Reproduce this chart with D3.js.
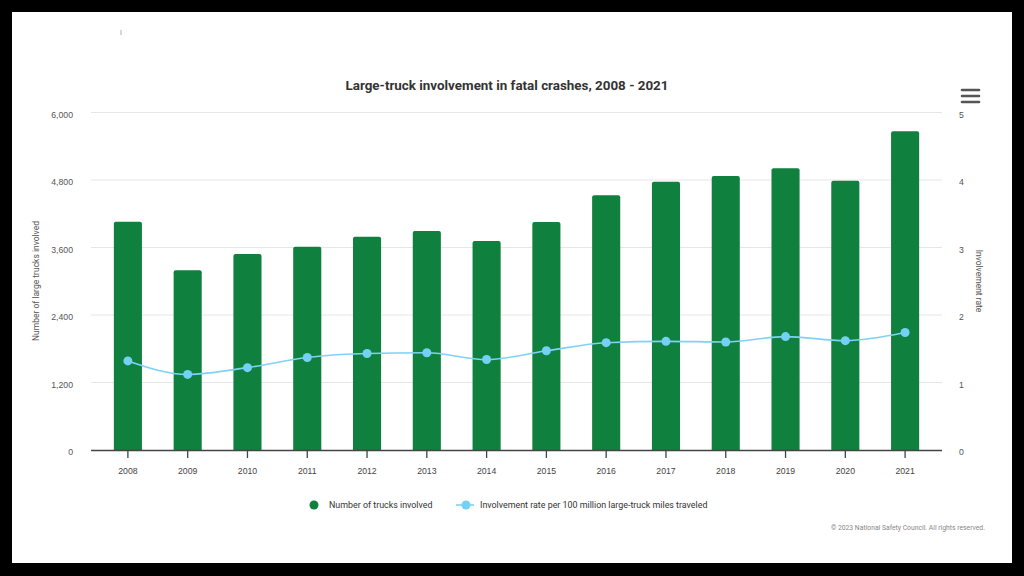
<!DOCTYPE html>
<html>
<head>
<meta charset="utf-8">
<script src="https://cdn.jsdelivr.net/npm/d3@7"></script>
<style>
  body { margin: 0; background: #000; }
  svg { display: block; font-family: Roboto, "Noto Sans", sans-serif; }
</style>
</head>
<body>
<div id="chart"></div>
<script>
// data
var years = ['2008', '2009', '2010', '2011', '2012', '2013', '2014',
             '2015', '2016', '2017', '2018', '2019', '2020', '2021'];
var trucks = [4060, 3195, 3483, 3614, 3792, 3893, 3716,
              4053, 4527, 4770, 4871, 5007, 4788, 5666];
var rates = [1.32, 1.12, 1.22, 1.37, 1.43, 1.44, 1.34,
             1.47, 1.59, 1.61, 1.60, 1.68, 1.62, 1.74];
var leftTicks = [0, 1200, 2400, 3600, 4800, 6000];
var rightTicks = [0, 1, 2, 3, 4, 5];

var svgWidth = 1024;
var svgHeight = 576;

var plot = { left: 91, right: 942, top: 112.5, bottom: 450 };

var svg = d3.select('#chart')
    .append('svg')
    .attr('width', svgWidth)
    .attr('height', svgHeight);

// white card inside black frame
svg.append('rect')
    .attr('x', 12).attr('y', 12)
    .attr('width', 1000).attr('height', 551)
    .attr('fill', '#fff');

// small mark top-left
svg.append('line')
    .attr('x1', 121).attr('x2', 121)
    .attr('y1', 30).attr('y2', 35)
    .attr('stroke', '#999').attr('stroke-width', 0.8);

// scales
var x = d3.scaleBand()
    .domain(years)
    .range([98, 935])
    .paddingInner(0.53)
    .paddingOuter(0.265);

var yLeft = d3.scaleLinear()
    .domain([0, 6000])
    .range([plot.bottom, plot.top]);

var yRight = d3.scaleLinear()
    .domain([0, 5])
    .range([plot.bottom, plot.top]);

// gridlines
svg.append('g')
    .selectAll('line')
    .data(leftTicks.slice(1))
    .enter()
    .append('line')
        .attr('x1', plot.left)
        .attr('x2', plot.right)
        .attr('y1', d => yLeft(d))
        .attr('y2', d => yLeft(d))
        .attr('stroke', '#e6e6e6')
        .attr('stroke-width', 1);

// left axis labels
var leftAxis = d3.axisLeft(yLeft)
    .tickValues(leftTicks)
    .tickSize(0)
    .tickPadding(0)
    .tickFormat(d3.format(','));

var gl = svg.append('g')
    .attr('transform', 'translate(73,2)')
    .call(leftAxis);
gl.select('.domain').remove();
gl.selectAll('text')
    .attr('fill', '#555')
    .style('font-size', '8.7px');

// right axis labels
var rightAxis = d3.axisRight(yRight)
    .tickValues(rightTicks)
    .tickSize(0)
    .tickPadding(0)
    .tickFormat(d3.format('d'));

var gr = svg.append('g')
    .attr('transform', 'translate(959,2)')
    .call(rightAxis);
gr.select('.domain').remove();
gr.selectAll('text')
    .attr('fill', '#555')
    .style('font-size', '8.7px');

// bars
svg.append('g')
    .selectAll('path')
    .data(trucks)
    .enter()
    .append('path')
        .attr('d', function(d, i) {
            var x0 = x(years[i]);
            var w = x.bandwidth();
            var y0 = yLeft(d);
            var r = 2;
            return 'M' + x0 + ',' + plot.bottom +
                'V' + (y0 + r) +
                'Q' + x0 + ',' + y0 + ' ' + (x0 + r) + ',' + y0 +
                'H' + (x0 + w - r) +
                'Q' + (x0 + w) + ',' + y0 + ' ' + (x0 + w) + ',' + (y0 + r) +
                'V' + plot.bottom + 'Z';
        })
        .attr('fill', '#10803e');

// x axis
var bottomAxis = d3.axisBottom(x)
    .tickSize(8)
    .tickPadding(10)
    .tickSizeOuter(0);

var gx = svg.append('g')
    .attr('transform', `translate(0,${plot.bottom})`)
    .call(bottomAxis);
gx.select('.domain')
    .attr('d', `M${plot.left},0.5H${plot.right}`)
    .attr('stroke', '#444')
    .attr('stroke-width', 1.3);
gx.selectAll('.tick line')
    .attr('stroke', '#444')
    .attr('stroke-width', 1.3);
gx.selectAll('text')
    .attr('fill', '#444')
    .style('font-size', '8.7px');

// rate line
var line = d3.line()
    .x((d, i) => x(years[i]) + x.bandwidth() / 2)
    .y(d => yRight(d))
    .curve(d3.curveMonotoneX);

svg.append('path')
    .datum(rates)
    .attr('d', line)
    .attr('fill', 'none')
    .attr('stroke', '#7fd2f5')
    .attr('stroke-width', 1.6);

svg.append('g')
    .selectAll('circle')
    .data(rates)
    .enter()
    .append('circle')
        .attr('cx', (d, i) => x(years[i]) + x.bandwidth() / 2)
        .attr('cy', d => yRight(d))
        .attr('r', 4.5)
        .attr('fill', '#75d0f5');

// title
svg.append('text')
    .attr('x', 507)
    .attr('y', 90)
    .attr('text-anchor', 'middle')
    .attr('fill', '#333')
    .style('font-size', '13.4px')
    .style('font-weight', 'bold')
    .text('Large-truck involvement in fatal crashes, 2008 - 2021');

// axis titles
svg.append('text')
    .attr('transform', 'translate(39,281) rotate(-90)')
    .attr('text-anchor', 'middle')
    .attr('fill', '#555')
    .style('font-size', '8.5px')
    .text('Number of large trucks involved');

svg.append('text')
    .attr('transform', 'translate(976,281) rotate(90)')
    .attr('text-anchor', 'middle')
    .attr('fill', '#555')
    .style('font-size', '8.5px')
    .text('Involvement rate');

// menu icon
svg.append('g')
    .selectAll('line')
    .data([90, 96, 102])
    .enter()
    .append('line')
        .attr('x1', 962).attr('x2', 979)
        .attr('y1', d => d).attr('y2', d => d)
        .attr('stroke', '#555')
        .attr('stroke-width', 2.6)
        .attr('stroke-linecap', 'round');

// legend
var legend = svg.append('g').style('font-size', '8.9px');
legend.append('circle')
    .attr('cx', 314).attr('cy', 505).attr('r', 4.5)
    .attr('fill', '#10803e');
legend.append('text')
    .attr('x', 329).attr('y', 508)
    .attr('fill', '#333')
    .text('Number of trucks involved');
legend.append('line')
    .attr('x1', 456).attr('x2', 474)
    .attr('y1', 505).attr('y2', 505)
    .attr('stroke', '#7fd2f5').attr('stroke-width', 1.6);
legend.append('circle')
    .attr('cx', 466).attr('cy', 505).attr('r', 4.5)
    .attr('fill', '#75d0f5');
legend.append('text')
    .attr('x', 480).attr('y', 508)
    .attr('fill', '#333')
    .text('Involvement rate per 100 million large-truck miles traveled');

// credit
svg.append('text')
    .attr('x', 985)
    .attr('y', 530)
    .attr('text-anchor', 'end')
    .attr('fill', '#888')
    .style('font-size', '6.8px')
    .text('\u00A9 2023 National Safety Council. All rights reserved.');
</script>
</body>
</html>
